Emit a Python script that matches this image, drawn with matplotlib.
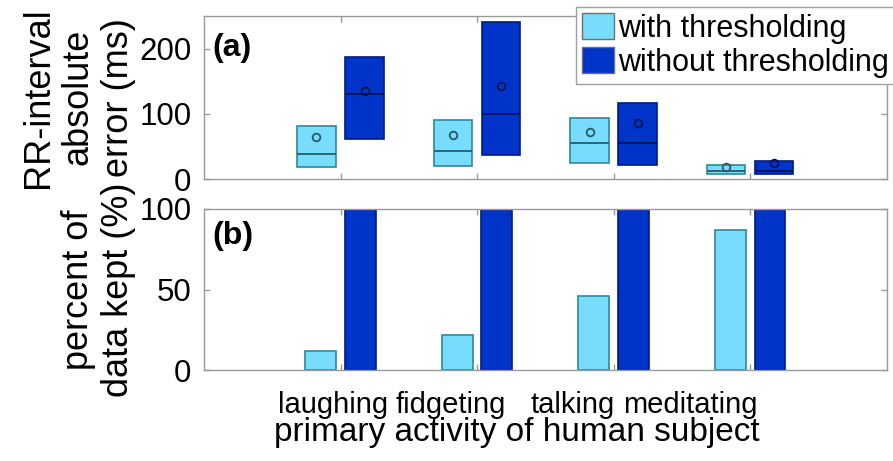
import numpy as np
import matplotlib
matplotlib.use('Agg')
import matplotlib.pyplot as plt
from matplotlib.patches import Patch

plt.rcParams['font.family'] = ['Liberation Sans', 'DejaVu Sans']
plt.rcParams['font.size'] = 22.5

activities = ['laughing', 'fidgeting', 'talking', 'meditating']
label_pos = [0.945, 1.81, 2.70, 3.56]   # where the original put the tick labels

# (a) RR-interval absolute error (ms): box = lower/upper quartile, line = median, circle = mean
with_lo = [18, 20, 25, 7]
with_hi = [82, 91, 94, 21]
with_med = [39, 43, 56, 13]
with_mean = [64, 68, 72, 18]

wo_lo = [62, 37, 22, 7]
wo_hi = [188, 242, 117, 27]
wo_med = [131, 100, 56, 13]
wo_mean = [136, 143, 86, 25]

# (b) percent of data kept
kept_with = [12, 22, 46, 87]
kept_wo = [100, 100, 100, 100]

c_light, e_light = '#78dcfc', '#2e8a9a'
c_dark, e_dark = '#0033c8', '#001a80'
spine_c = '#9a9a9a'

x = np.arange(1, len(activities) + 1)

fig = plt.figure(figsize=(8.93, 4.61), dpi=100)
ax1 = fig.add_axes([0.2284, 0.6117, 0.7645, 0.3542])
ax2 = fig.add_axes([0.2284, 0.1967, 0.7645, 0.350])

off = 0.176
bw = 0.28
ax1.bar(x - off, np.array(with_hi) - np.array(with_lo), bottom=with_lo, width=bw,
        color=c_light, edgecolor=e_light, linewidth=1.2, zorder=2)
ax1.bar(x + off, np.array(wo_hi) - np.array(wo_lo), bottom=wo_lo, width=bw,
        color=c_dark, edgecolor=e_dark, linewidth=1.2, zorder=2)
ax1.hlines(with_med, x - off - bw / 2, x - off + bw / 2, color='#2a5a66', lw=1.3, zorder=3)
ax1.hlines(wo_med, x + off - bw / 2, x + off + bw / 2, color='#001450', lw=1.3, zorder=3)
ax1.plot(x - off, with_mean, 'o', ms=5.5, mfc='none', mec='#2a5a66', mew=1.3, zorder=4)
ax1.plot(x + off, wo_mean, 'o', ms=5.5, mfc='none', mec='#001450', mew=1.3, zorder=4)
ax1.set_ylim(0, 251)
ax1.set_yticks([0, 100, 200])
ax1.text(0.013, 0.80, '(a)', transform=ax1.transAxes, fontweight='bold', fontsize=23,
         va='center', ha='left')

off2 = 0.145
bw2 = 0.225
ax2.bar(x - off2, kept_with, width=bw2, color=c_light, edgecolor=e_light, linewidth=1.2, zorder=2)
ax2.bar(x + off2, kept_wo, width=bw2, color=c_dark, edgecolor=e_dark, linewidth=1.2, zorder=2)
ax2.set_ylim(0, 100)
ax2.set_yticks([0, 50, 100])
ax2.text(0.013, 0.83, '(b)', transform=ax2.transAxes, fontweight='bold', fontsize=23,
         va='center', ha='left')

for ax in (ax1, ax2):
    ax.set_xlim(0, 5)
    ax.set_xticks(x)
    ax.set_xticklabels([])
    ax.tick_params(direction='in', length=4, width=1, color=spine_c, top=True, right=True, pad=9)
    ax.tick_params(axis='x', which='minor', length=0)
    for s in ax.spines.values():
        s.set_color(spine_c)
        s.set_linewidth(1)

ax2.set_xticks(label_pos, activities, minor=True)
ax2.tick_params(axis='x', which='minor', pad=15, labelsize=21)

ax1.set_ylabel('RR-interval\nabsolute\nerror (ms)', linespacing=1.2, fontsize=26)
ax1.yaxis.set_label_coords(-0.099, 0.5)
ax2.set_ylabel('percent of\ndata kept (%)', linespacing=1.2, fontsize=26)
ax2.yaxis.set_label_coords(-0.099, 0.5)
ax2.set_xlabel('primary activity of human subject', fontsize=24)
ax2.xaxis.set_label_coords(0.458, -0.29)

handles = [Patch(facecolor=c_light, edgecolor='#707070'), Patch(facecolor=c_dark, edgecolor='#707070')]
leg = fig.legend(handles, ['with thresholding', 'without thresholding'], loc='upper left',
                 bbox_to_anchor=(0.6447, 0.984), fancybox=False, framealpha=1, fontsize=22,
                 edgecolor='#a0a0a0', handlelength=1.05, handleheight=0.9, handletextpad=0.12,
                 labelspacing=0.12, borderpad=0.2, borderaxespad=0)
leg.get_frame().set_linewidth(1)

fig.savefig('out.png', dpi=100)
